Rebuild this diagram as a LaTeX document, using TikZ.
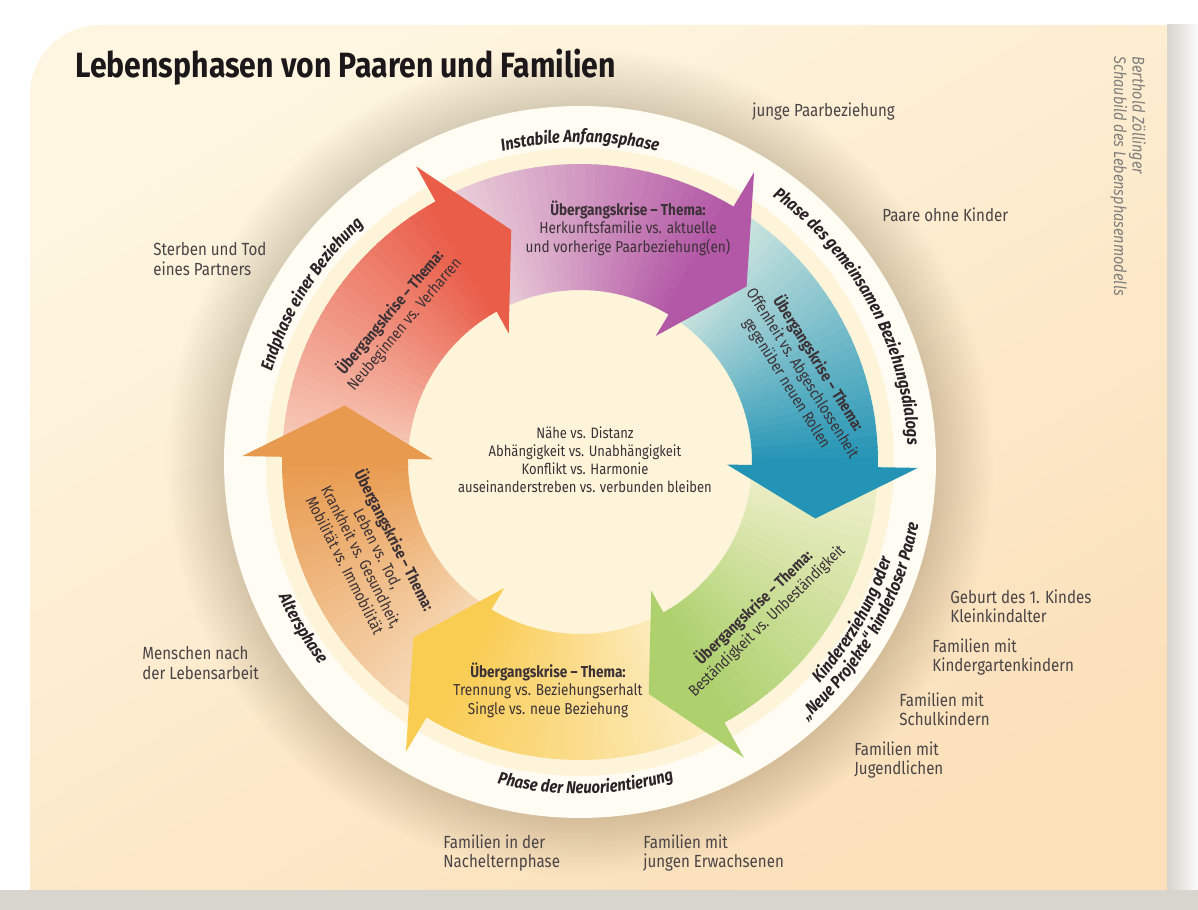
\documentclass[tikz,border=0pt]{standalone}
\usepackage{fontspec}
\setmainfont{Fira Sans}[FakeStretch=0.86]
\usetikzlibrary{decorations.text}

\definecolor{cardlight}{HTML}{FEF6E1}
\definecolor{carddark}{HTML}{FBE0BA}
\definecolor{shadowgray}{HTML}{D8D4CE}
\definecolor{halo}{HTML}{6B5535}
\definecolor{ringwhite}{HTML}{FFFCF3}
\definecolor{ringshade}{HTML}{E0D4BE}
\definecolor{disccream}{HTML}{FDF4DA}
\definecolor{titlecol}{HTML}{1C181A}
\definecolor{labelgray}{HTML}{4A4446}
\definecolor{krisetext}{HTML}{3B3136}
\definecolor{ringtext}{HTML}{2A2226}
\definecolor{credgray}{HTML}{817F7C}
% arrow colours: tail / head
\definecolor{redtail}{HTML}{F7CDBB}
\definecolor{redhead}{HTML}{E95D49}
\definecolor{purtail}{HTML}{EDD3DA}
\definecolor{purhead}{HTML}{B358A6}
\definecolor{teatail}{HTML}{D3E8E0}
\definecolor{teahead}{HTML}{2394B5}
\definecolor{gretail}{HTML}{F0F0CC}
\definecolor{grehead}{HTML}{AED16E}
\definecolor{yeltail}{HTML}{FCEDC4}
\definecolor{yelhead}{HTML}{F9CC52}
\definecolor{oratail}{HTML}{F7DCBC}
\definecolor{orahead}{HTML}{E89A4E}

\pgfdeclareradialshading{innerdisc}{\pgfpoint{0bp}{0bp}}{color(0bp)=(disccream); color(44bp)=(disccream); color(47.4bp)=(ringshade); color(50bp)=(ringwhite)}

\begin{document}
\begin{tikzpicture}[x=0.02cm,y=0.02cm]
  \newcommand{\ringfont}{\fontsize{9.8}{11}\selectfont\bfseries\itshape}
  \tikzstyle{lbl}   = [anchor=west, inner sep=0, align=left, text=labelgray, font=\fontsize{10}{11}\selectfont]
  \tikzstyle{krise} = [inner sep=0, align=center, text=krisetext, font=\fontsize{9}{10.5}\selectfont]
  \tikzstyle{ringlabel} = [decorate, decoration={text along path, text align=center, text color=ringtext}]

  \useasboundingbox (0,0) rectangle (1198,910);
  \fill[white] (0,0) rectangle (1198,910);
  \shade[left color=shadowgray, right color=white!90!shadowgray] (1167,0) rectangle (1198,885);
  \fill[shadowgray] (0,0) rectangle (1198,20);

  % card
  \shade[top color=cardlight, bottom color=carddark, shading angle=30]
    (30,20) -- (30,815) arc[start angle=180, end angle=90, radius=70] -- (1167,885) -- (1167,20) -- cycle;

  \node[anchor=base west, inner sep=0, text=titlecol, font=\fontsize{20}{23}\selectfont\bfseries] (titel) at (75,832) {Lebensphasen von Paaren und Familien};
  \node[rotate=-90, anchor=north west, inner sep=0, align=left, text=credgray, font=\fontsize{9.6}{10.5}\selectfont\itshape] (credit) at (1146,854) {Berthold Zöllinger\\Schaubild des Lebensphasenmodells};

  \begin{scope}[shift={(580,448)}]
    \foreach \k in {0,...,19}
      \fill[halo, opacity=0.013] (0,0) circle (356+3*\k);
    \fill[ringwhite] (0,0) circle (356);
    \shade[shading=innerdisc] (0,0) circle (314);

    % bands, pale at the tail; each tail starts under the previous head
    \foreach \b/\tc/\hc in {119/redtail/redhead, 59/purtail/purhead, -1/teatail/teahead,
                            -61/gretail/grehead, -121/yeltail/yelhead, 179/oratail/orahead} {
      \foreach \k in {0,...,29} {
        \pgfmathsetmacro\aa{\b+59.8-\k*59.8/30}
        \pgfmathsetmacro\ab{\aa-59.8/30-0.3}
        \pgfmathtruncatemacro\p{100*\k/29}
        \fill[\hc!\p!\tc] (\aa:172) arc[start angle=\aa, end angle=\ab, radius=172]
          -- (\ab:298) arc[start angle=\ab, end angle=\aa, radius=298] -- cycle;
      }
    }
    % heads
    \foreach \b/\hc in {119/redhead, 59/purhead, -1/teahead, -61/grehead, -121/yelhead, 179/orahead} {
      \pgfmathsetmacro\tip{\b-12.5}
      \fill[\hc] (\b:338) -- (\tip:242) -- (\b:147) -- cycle;
    }

    \path[ringlabel, decoration={text={|\ringfont|Instabile Anfangsphase}}]
      (125:320) arc[start angle=125, end angle=55, radius=320];
    \path[ringlabel, decoration={text={|\ringfont|Phase des gemeinsamen Beziehungsdialogs}}]
      (80:328) arc[start angle=80, end angle=-23, radius=328];
    \path[ringlabel, decoration={text={|\ringfont|Kindererziehung oder}}]
      (-72:326) arc[start angle=-72, end angle=12, radius=326];
    \path[ringlabel, decoration={text={|\ringfont|„Neue Projekte“ kinderloser Paare}}]
      (-72:344) arc[start angle=-72, end angle=13, radius=344];
    \path[ringlabel, decoration={text={|\ringfont|Phase der Neuorientierung}}]
      (-125:332) arc[start angle=-125, end angle=-53, radius=332];
    \path[ringlabel, decoration={text={|\ringfont|Altersphase}}]
      (-185:330) arc[start angle=-185, end angle=-113, radius=330];
    \path[ringlabel, decoration={text={|\ringfont|Endphase einer Beziehung}}]
      (188:321) arc[start angle=188, end angle=108, radius=321];
  \end{scope}

  % themes of the transition crises
  \node[krise] (kr1) at (628,682) {\textbf{Übergangskrise – Thema:}\\Herkunftsfamilie vs. aktuelle\\und vorherige Paarbeziehung(en)};
  \node[krise, rotate=-58] (kr2) at (803,537) {\textbf{Übergangskrise – Thema:}\\Offenheit vs. Abgeschlossenheit\\gegenüber neuen Rollen};
  \node[krise, rotate=44] (kr3) at (760,296) {\textbf{Übergangskrise – Thema:}\\Beständigkeit vs. Unbeständigkeit};
  \node[krise] (kr4) at (548,220) {\textbf{Übergangskrise – Thema:}\\Trennung vs. Beziehungserhalt\\Single vs. neue Beziehung};
  \node[krise, rotate=-63] (kr5) at (371,358) {\textbf{Übergangskrise – Thema:}\\Leben vs. Tod,\\Krankheit vs. Gesundheit,\\Mobilität vs. Immobilität};
  \node[krise, rotate=50] (kr6) at (397,592) {\textbf{Übergangskrise – Thema:}\\Neubeginnen vs. Verharren};

  \node[krise, font=\fontsize{8.6}{10.3}\selectfont] (mitte) at (585,450) {Nähe vs. Distanz\\Abhängigkeit vs. Unabhängigkeit\\Konflikt vs. Harmonie\\auseinanderstreben vs. verbunden bleiben};

  % life stages around the circle
  \node[lbl] (l1)  at (752,798) {junge Paarbeziehung};
  \node[lbl] (l2)  at (882,695) {Paare ohne Kinder};
  \node[lbl] (l3)  at (950,304) {Geburt des 1. Kindes\\Kleinkindalter};
  \node[lbl] (l4)  at (932,253) {Familien mit\\Kindergartenkindern};
  \node[lbl] (l5)  at (899,201) {Familien mit\\Schulkindern};
  \node[lbl] (l6)  at (854,150) {Familien mit\\Jugendlichen};
  \node[lbl] (l7)  at (643,57)  {Familien mit\\jungen Erwachsenen};
  \node[lbl] (l8)  at (443,57)  {Familien in der\\Nachelternphase};
  \node[lbl] (l9)  at (142,247) {Menschen nach\\der Lebensarbeit};
  \node[lbl] (l10) at (153,651) {Sterben und Tod\\eines Partners};
\end{tikzpicture}
\end{document}
